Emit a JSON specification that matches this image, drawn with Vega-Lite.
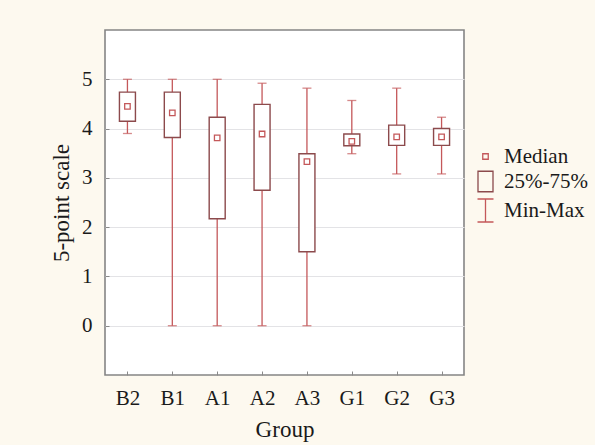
{
  "$schema": "https://vega.github.io/schema/vega-lite/v6.json",
  "width": 359,
  "height": 345,
  "autosize": {"type": "none"},
  "padding": {"left": 105, "top": 30, "right": 131, "bottom": 70},
  "background": "#fdf9ef",
  "config": {
    "view": {"fill": "white", "stroke": "#858585", "strokeWidth": 1.6},
    "font": "Liberation Serif",
    "legend": {"symbolSize": 625},
    "axis": {
      "labelFont": "Liberation Serif",
      "titleFont": "Liberation Serif",
      "labelColor": "#1a1a1a",
      "titleColor": "#1a1a1a",
      "titleFontWeight": "normal",
      "domain": false
    }
  },
  "data": {
    "values": [
      {"group": "B2", "min": 3.9, "q1": 4.15, "median": 4.45, "q3": 4.74, "max": 5},
      {"group": "B1", "min": 0, "q1": 3.82, "median": 4.32, "q3": 4.74, "max": 5},
      {"group": "A1", "min": 0, "q1": 2.17, "median": 3.81, "q3": 4.23, "max": 5},
      {"group": "A2", "min": 0, "q1": 2.75, "median": 3.89, "q3": 4.49, "max": 4.92},
      {"group": "A3", "min": 0, "q1": 1.5, "median": 3.33, "q3": 3.49, "max": 4.82},
      {"group": "G1", "min": 3.49, "q1": 3.65, "median": 3.74, "q3": 3.89, "max": 4.57},
      {"group": "G2", "min": 3.08, "q1": 3.66, "median": 3.83, "q3": 4.07, "max": 4.82},
      {"group": "G3", "min": 3.08, "q1": 3.66, "median": 3.83, "q3": 4.0, "max": 4.23}
    ]
  },
  "encoding": {
    "x": {
      "field": "group",
      "type": "nominal",
      "sort": null,
      "scale": {"type": "point", "padding": 0.5},
      "axis": {
        "title": "Group",
        "labelAngle": 0,
        "labelFontSize": 21,
        "titleFontSize": 23,
        "labelPadding": 16,
        "titlePadding": 10,
        "ticks": true,
        "tickSize": -4,
        "tickColor": "#8a8a8a",
        "grid": false
      }
    }
  },
  "layer": [
    {
      "mark": {"type": "rule", "stroke": "#c4585a", "strokeWidth": 1.3},
      "encoding": {
        "y": {
          "field": "min",
          "type": "quantitative",
          "scale": {"domain": [-1, 6], "nice": false, "zero": false},
          "axis": {
            "title": "5-point scale",
            "values": [0, 1, 2, 3, 4, 5],
            "labelFontSize": 21,
            "titleFontSize": 23,
            "labelPadding": 17,
            "titlePadding": 8,
            "ticks": true,
            "tickSize": -4,
            "tickColor": "#8a8a8a",
            "grid": true,
            "gridColor": "#e3e3e6",
            "gridWidth": 1
          }
        },
        "y2": {"field": "max"}
      }
    },
    {
      "mark": {"type": "tick", "color": "#c4585a", "size": 9, "thickness": 1.3},
      "encoding": {"y": {"field": "min", "type": "quantitative"}}
    },
    {
      "mark": {"type": "tick", "color": "#c4585a", "size": 9, "thickness": 1.3},
      "encoding": {"y": {"field": "max", "type": "quantitative"}}
    },
    {
      "mark": {"type": "bar", "fill": "white", "stroke": "#8c4a4c", "strokeWidth": 1.4, "size": 16},
      "encoding": {
        "y": {"field": "q1", "type": "quantitative"},
        "y2": {"field": "q3"}
      }
    },
    {
      "mark": {"type": "point", "filled": false, "size": 625, "strokeWidth": 1.3, "opacity": 1},
      "encoding": {
        "y": {"field": "median", "type": "quantitative"},
        "shape": {
          "datum": "Median",
          "scale": {
            "domain": ["Median", "25%-75%", "Min-Max"],
            "range": [
              "M-0.22,-0.22H0.22V0.22H-0.22Z",
              "M-0.6,-0.82H0.6V0.82H-0.6Z",
              "M-0.64,-0.92H0.64M0,-0.92V0.92M-0.64,0.92H0.64"
            ]
          },
          "legend": {
            "title": null,
            "orient": "none",
            "legendX": 367,
            "legendY": 113,
            "padding": 0,
            "symbolSize": 625,
            "symbolStrokeWidth": 1.3,
            "labelFont": "Liberation Serif",
            "labelFontSize": 21,
            "labelColor": "#1a1a1a",
            "labelOffset": 5,
            "rowPadding": 1
          }
        },
        "stroke": {
          "datum": "Median",
          "scale": {
            "domain": ["Median", "25%-75%", "Min-Max"],
            "range": ["#c4585a", "#8c4a4c", "#c4585a"]
          },
          "legend": {
            "title": null,
            "orient": "none",
            "legendX": 367,
            "legendY": 113,
            "padding": 0,
            "symbolSize": 625,
            "symbolStrokeWidth": 1.3,
            "labelFont": "Liberation Serif",
            "labelFontSize": 21,
            "labelColor": "#1a1a1a",
            "labelOffset": 5,
            "rowPadding": 1
          }
        }
      }
    }
  ]
}
